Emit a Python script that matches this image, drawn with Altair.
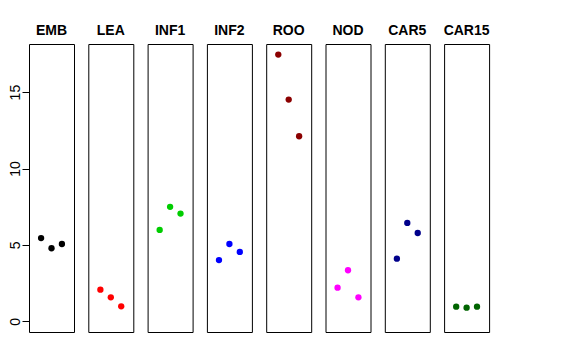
import altair as alt
import pandas as pd

groups = ["EMB", "LEA", "INF1", "INF2", "ROO", "NOD", "CAR5", "CAR15"]
colors = ["#000000", "#FF0000", "#00CD00", "#0000FF", "#8B0000", "#FF00FF", "#00008B", "#006400"]
positions = [1, 2, 3]
values = {
    "EMB": [5.45, 4.78, 5.06],
    "LEA": [2.07, 1.57, 0.98],
    "INF1": [5.98, 7.49, 7.05],
    "INF2": [4.01, 5.06, 4.54],
    "ROO": [17.46, 14.51, 12.11],
    "NOD": [2.20, 3.34, 1.57],
    "CAR5": [4.10, 6.44, 5.78],
    "CAR15": [0.96, 0.89, 0.96],
}
y_ticks = [0, 5, 10, 15]

rows = []
for g in groups:
    for p, v in zip(positions, values[g]):
        rows.append({"group": g, "pos": p, "value": v})
df = pd.DataFrame(rows)

FONT = "Liberation Sans"

base = alt.Chart(df).mark_circle(size=40, opacity=1).encode(
    x=alt.X("pos:Q", scale=alt.Scale(domain=[-0.16, 4.16], nice=False, zero=False), axis=None),
    y=alt.Y(
        "value:Q",
        scale=alt.Scale(domain=[-0.70, 18.15], nice=False, zero=False),
        axis=alt.Axis(
            values=y_ticks,
            title=None,
            grid=False,
            domain=False,
            tickSize=7,
            tickColor="#000000",
            labelAngle=270,
            labelFontSize=14,
            labelFont=FONT,
            labelColor="#000000",
            labelPadding=0,
        ),
    ),
    color=alt.Color("group:N", scale=alt.Scale(domain=groups, range=colors), legend=None),
).properties(width=45, height=288)

chart = base.facet(
    column=alt.Column(
        "group:N",
        sort=groups,
        header=alt.Header(
            title=None,
            labelFontSize=14,
            labelFont=FONT,
            labelFontWeight="bold",
            labelColor="#000000",
            labelOrient="top",
            labelPadding=6,
        ),
    ),
    spacing=14.3,
    bounds="flush",
).configure_view(
    stroke="#000000", strokeWidth=1
).properties(
    padding={"left": 0, "top": 16, "right": 5, "bottom": 5}
)

chart.save("out.html", embed_options={"renderer": "svg", "actions": False})
